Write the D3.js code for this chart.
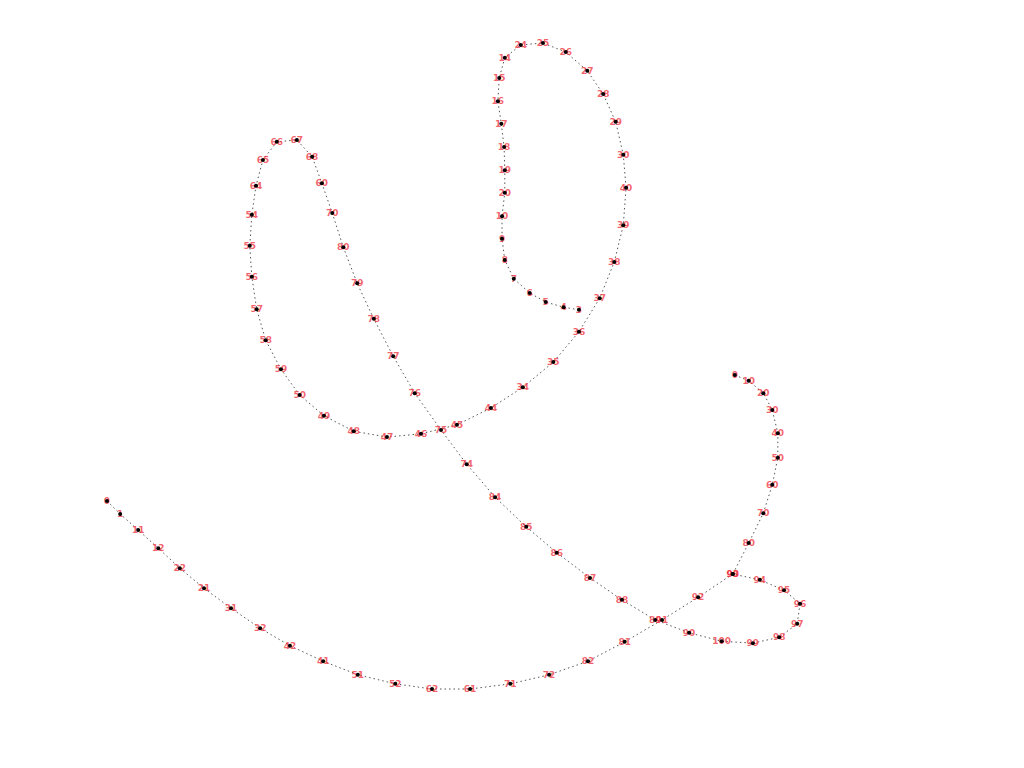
<!DOCTYPE html>
<html>
<head>
<meta charset="utf-8">
<script src="https://cdn.jsdelivr.net/npm/d3@7"></script>
<style>
  html, body { margin: 0; padding: 0; background: #fff; }
  svg { display: block; }
</style>
</head>
<body>
<svg id="chart" width="1024" height="768"></svg>
<script>
// Main path (data units)
const mainX = [0,1.9,4.5,7.4,10.5,14.0,17.9,22.1,26.4,31.2,36.2,41.6,46.9,52.4,58.2,63.8,69.4,74.7,80.1,85.3,90.3,94.2,97.7,100,99.6,97.0,93.2,88.7,84.0,79.1,74.3,69.7,64.9,60.5,56.0,51.9,48.2,44.4,41.3,38.5,36.1,34.1,32.5,31.0,29.6,27.4,24.5,22.5,21.5,20.9,20.6,20.9,21.6,22.9,25.1,27.8,31.3,35.6,40.4,45.3,50.5,55.4,60.0,64.4,68.1,71.1,73.2,74.5,74.9,74.5,73.4,71.6,69.3,66.2,62.9,59.7,57.4,56.6,56.4,56.9,57.3,57.4,57.4,57.0,57.0,57.4,58.7,61.0,63.3,65.9,68.1];
const mainY = [29.1,27.1,24.6,21.8,18.7,15.6,12.5,9.4,6.7,4.3,2.2,0.8,0,0,0.8,2.2,4.3,7.3,10.7,14.2,17.8,16.9,15.3,13.2,10.1,8.0,7.1,7.4,8.7,10.7,13.8,17.2,21.1,25.1,29.7,34.8,40.1,45.8,51.5,57.3,62.8,68.4,73.7,78.3,82.4,85.0,84.7,81.9,77.9,73.4,68.6,63.8,58.8,54.0,49.5,45.5,42.3,39.9,39.0,39.5,40.9,43.5,46.7,50.6,55.3,60.5,66.1,71.8,77.6,82.7,87.8,92.1,95.7,98.6,100,99.7,97.7,94.6,91.0,87.5,83.9,80.3,76.8,73.2,69.7,66.4,63.5,61.3,59.9,59.1,58.7];
const mainLabels = ["0","1","11","12","22","21","31","32","42","41","51","52","62","61","71","72","82","81","91","92","93","94","95","96","97","98","99","100","90","89","88","87","86","85","84","74","75","76","77","78","79","80","70","60","68","67","66","65","64","54","55","56","57","58","59","50","49","48","47","46","45","44","34","35","36","37","38","39","40","30","29","28","27","26","25","24","14","15","16","17","18","19","20","10","9","8","7","6","5","4","3"];

// Right branch
const sideX = [90.6,92.6,94.7,96.0,96.8,96.8,96.0,94.7,92.6,90.3];
const sideY = [48.6,47.7,45.8,43.2,39.6,35.8,31.6,27.2,22.6,17.8];
const sideLabels = ["0","10","20","30","40","50","60","70","80","90"];

const svg = d3.select("#chart");
const x = d3.scaleLinear().domain([0, 100]).range([107, 800]);
const y = d3.scaleLinear().domain([0, 100]).range([689, 43]);

const mainData = mainX.map((v, i) => ({x: v, y: mainY[i], label: mainLabels[i]}));
const sideData = sideX.map((v, i) => ({x: v, y: sideY[i], label: sideLabels[i]}));

const line = d3.line().x(d => x(d.x)).y(d => y(d.y));

[mainData, sideData].forEach(data => {
  svg.append("path")
    .datum(data)
    .attr("d", line)
    .attr("fill", "none")
    .attr("stroke", "#555")
    .attr("stroke-width", 1)
    .attr("stroke-dasharray", "1.5,3");
});

const all = mainData.concat(sideData);

svg.append("g").selectAll("text")
  .data(all)
  .join("text")
  .attr("x", d => x(d.x))
  .attr("y", d => y(d.y))
  .attr("text-anchor", "middle")
  .attr("dominant-baseline", "central")
  .attr("font-family", "DejaVu Sans, sans-serif")
  .attr("font-size", 9)
  .attr("font-weight", "bold")
  .attr("fill", "#f0303c")
  .attr("fill-opacity", 0.75)
  .text(d => d.label);

svg.append("g").selectAll("circle")
  .data(all)
  .join("circle")
  .attr("cx", d => x(d.x))
  .attr("cy", d => y(d.y))
  .attr("r", 2)
  .attr("fill", "#000");
</script>
</body>
</html>
